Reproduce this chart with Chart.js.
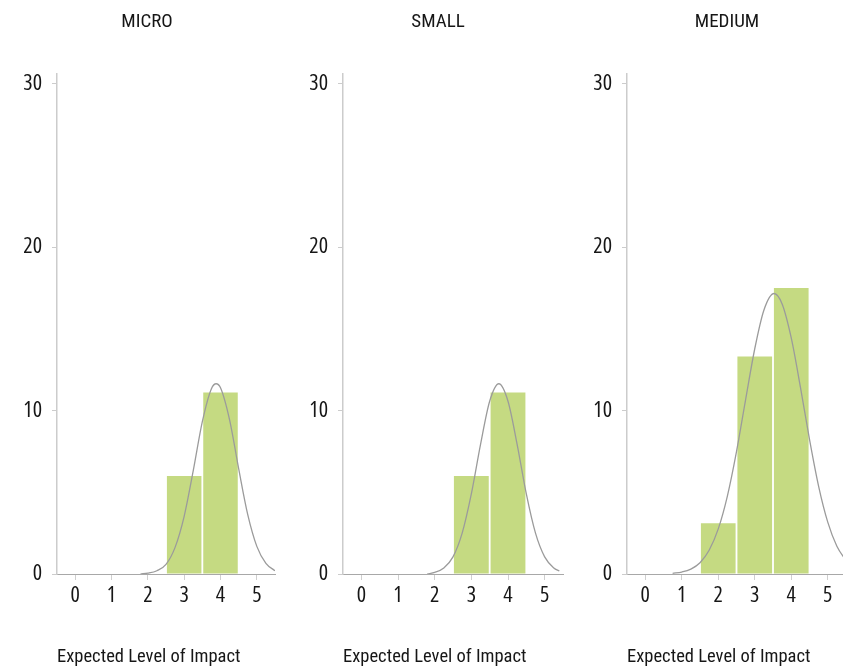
<!DOCTYPE html>
<html>
<head>
<meta charset="utf-8">
<script src="https://cdn.jsdelivr.net/npm/chart.js@4.4.1/dist/chart.umd.min.js"></script>
<style>
  html, body { margin: 0; padding: 0; background: #fff; overflow: hidden; width: 843px; height: 670px; }
  .panel { position: absolute; top: 0; width: 290px; height: 670px; }
</style>
</head>
<body>
<div class="panel" style="left:2px"><canvas id="chart-micro" width="290" height="670"></canvas></div>
<div class="panel" style="left:292px"><canvas id="chart-small" width="290" height="670"></canvas></div>
<div class="panel" style="left:582px"><canvas id="chart-medium" width="290" height="670"></canvas></div>
<script>
// Impact levels on the x axis and tick values
const impactLevels = [0, 1, 2, 3, 4, 5];
const xTickValues = [0, 1, 2, 3, 4, 5];
const yTickValues = [0, 10, 20, 30];
const xAxisTitle = 'Expected Level of Impact';
const panelTitles = ['MICRO', 'SMALL', 'MEDIUM'];

// Histogram heights per impact level
const microCounts  = [0, 0, 0, 6.0, 11.1, 0];
const smallCounts  = [0, 0, 0, 6.0, 11.1, 0];
const mediumCounts = [0, 0, 3.1, 13.3, 17.5, 0];

// Fitted normal curves (sampled)
const microCurveX  = [1.8, 2.0, 2.25, 2.5, 2.75, 3.0, 3.25, 3.5, 3.75, 3.88, 4.0, 4.25, 4.5, 4.75, 5.0, 5.25, 5.5];
const microCurveY  = [0.0, 0.05, 0.2, 0.59, 1.63, 3.53, 6.32, 9.32, 11.34, 11.64, 11.39, 9.43, 6.44, 3.63, 1.69, 0.65, 0.2];
const smallCurveX  = [1.8, 2.0, 2.25, 2.5, 2.75, 3.0, 3.25, 3.5, 3.75, 4.0, 4.25, 4.5, 4.75, 5.0, 5.25, 5.4];
const smallCurveY  = [0.0, 0.1, 0.37, 1.05, 2.5, 4.9, 7.92, 10.57, 11.64, 10.57, 7.92, 4.9, 2.5, 1.05, 0.37, 0.18];
const mediumCurveX = [0.75, 1.0, 1.25, 1.5, 1.75, 2.0, 2.25, 2.5, 2.75, 3.0, 3.25, 3.53, 3.75, 4.0, 4.25, 4.5, 4.75, 5.0, 5.25, 5.5];
const mediumCurveY = [0.04, 0.12, 0.3, 0.69, 1.45, 2.76, 4.77, 7.49, 10.67, 13.78, 16.14, 17.16, 16.52, 14.44, 11.45, 8.23, 5.36, 3.17, 1.70, 0.83];

// Per-panel layout: y-axis offset inside the canvas, right padding, title centre
const panels = [
  { id: 'chart-micro',  title: panelTitles[0], counts: microCounts,  cx: microCurveX,  cy: microCurveY,  axisLeft: 55, rightPad: 17, titleCenter: 145 },
  { id: 'chart-small',  title: panelTitles[1], counts: smallCounts,  cx: smallCurveX,  cy: smallCurveY,  axisLeft: 51, rightPad: 19, titleCenter: 146 },
  { id: 'chart-medium', title: panelTitles[2], counts: mediumCounts, cx: mediumCurveX, cy: mediumCurveY, axisLeft: 45, rightPad: 26, titleCenter: 145 }
];

const FONT = "Roboto, 'Open Sans', sans-serif";
const TICK_FONT = "'Open Sans', Roboto, sans-serif";
const STRETCH = 'normal condensed';
const TEXT = '#161616';

// Recentre the chart title over the whole panel rather than the padded area
const titleCenterPlugin = {
  id: 'titleCenter',
  afterLayout(chart, args, opts) {
    const tb = chart.titleBlock;
    if (tb && opts && typeof opts.center === 'number') {
      tb.left = opts.center - 120;
      tb.right = opts.center + 120;
    }
  }
};

panels.forEach(p => {
  new Chart(document.getElementById(p.id), {
    type: 'bar',
    plugins: [titleCenterPlugin],
    data: {
      datasets: [
        {
          type: 'line',
          order: 0,
          data: p.cx.map((x, i) => ({ x: x, y: p.cy[i] })),
          borderColor: '#9b9b9b',
          borderWidth: 1.3,
          pointRadius: 0,
          fill: false,
          cubicInterpolationMode: 'monotone'
        },
        {
          type: 'bar',
          order: 1,
          data: impactLevels.map((x, i) => ({ x: x, y: p.counts[i] })),
          backgroundColor: '#c5da82',
          borderWidth: 0,
          barPercentage: 0.95,
          categoryPercentage: 1.0
        }
      ]
    },
    options: {
      responsive: false,
      animation: false,
      layout: { padding: { left: 0, right: p.rightPad, top: 0, bottom: 0 } },
      plugins: {
        legend: { display: false },
        tooltip: { enabled: false },
        titleCenter: { center: p.titleCenter },
        title: {
          display: true,
          text: p.title,
          color: TEXT,
          font: { family: FONT, size: 19, weight: STRETCH, lineHeight: 1.2 },
          padding: { top: 11, bottom: 40 }
        }
      },
      scales: {
        x: {
          type: 'linear',
          min: -0.5,
          max: 5.5,
          offset: false,
          afterBuildTicks: s => { s.ticks = xTickValues.map(v => ({ value: v })); },
          afterFit: s => { s.height = 96; },
          border: { display: true, color: '#a8a8a8', width: 1 },
          grid: { display: true, drawOnChartArea: false, drawTicks: true, tickLength: 6, color: '#cfcfcf', offset: false },
          ticks: { color: TEXT, font: { family: TICK_FONT, size: 22, weight: STRETCH }, padding: 3, maxRotation: 0, autoSkip: false },
          title: {
            display: true,
            text: xAxisTitle,
            align: 'start',
            color: TEXT,
            font: { family: FONT, size: 18.5, weight: STRETCH, lineHeight: 1.2 },
            padding: { top: 0, bottom: 2 }
          }
        },
        y: {
          type: 'linear',
          min: 0,
          max: 30.6,
          afterBuildTicks: s => { s.ticks = yTickValues.map(v => ({ value: v })); },
          afterFit: s => { s.width = p.axisLeft; },
          border: { display: true, color: '#cccccc', width: 1.5 },
          grid: { display: true, drawOnChartArea: false, drawTicks: true, tickLength: 5, color: '#cccccc' },
          ticks: { color: TEXT, font: { family: TICK_FONT, size: 22, weight: STRETCH }, padding: 10 }
        }
      }
    }
  });
});
</script>
</body>
</html>
